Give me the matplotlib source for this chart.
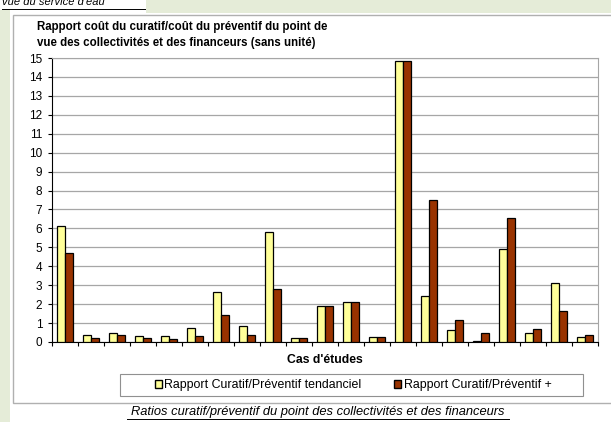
import matplotlib.pyplot as plt
import matplotlib.patches as mpatches
import numpy as np

plt.rcParams['font.family'] = ['Liberation Sans', 'DejaVu Sans']

# values (21 study cases)
tendanciel = [6.12, 0.35, 0.49, 0.32, 0.32, 0.72, 2.63, 0.82, 5.81, 0.21, 1.89,
              2.09, 0.28, 14.85, 2.42, 0.63, 0.07, 4.93, 0.46, 3.14, 0.28]
plus = [4.68, 0.21, 0.37, 0.21, 0.14, 0.30, 1.44, 0.39, 2.81, 0.21, 1.89,
        2.09, 0.28, 14.85, 7.49, 1.16, 0.49, 6.54, 0.70, 1.63, 0.37]
labels = ['Rapport Curatif/Préventif tendanciel', 'Rapport Curatif/Préventif +']

W, H = 611, 422
fig = plt.figure(figsize=(W / 100, H / 100), dpi=100)
fig.patch.set_facecolor('white')

def px(x, y, w, h):
    # pixel box (top-left origin) -> figure fraction
    return [x / W, 1 - (y + h) / H, w / W, h / H]

green = '#e5ecd8'
# page background bits
fig.patches.append(mpatches.Rectangle((146 / W, 1 - 13 / H), 1, 13 / H, transform=fig.transFigure,
                                      facecolor=green, edgecolor='none', zorder=-2))
fig.patches.append(mpatches.Rectangle((0, 0), 10 / W, 1 - 10 / H, transform=fig.transFigure,
                                      facecolor=green, edgecolor='none', zorder=-2))
# chart panel
b = px(13, 15, 640, 388)
fig.patches.append(mpatches.Rectangle((b[0], b[1]), b[2], b[3], transform=fig.transFigure,
                                      facecolor='white', edgecolor='#b0b0b0', lw=1, zorder=-1))

fig.text(2 / W, 1 - 2 / H, "vue du service d'eau", fontsize=8, style='italic',
         va='center', ha='left')
fig.lines.append(plt.Line2D([2 / W, 145 / W], [1 - 9 / H, 1 - 9 / H], transform=fig.transFigure,
                            color='black', lw=0.7))

fig.text(37 / W, 1 - 21 / H, 'Rapport coût du curatif/coût du préventif du point de\n'
         'vue des collectivités et des financeurs (sans unité)',
         fontsize=8.3, fontweight='bold', va='top', ha='left', linespacing=1.4)

ax = fig.add_axes(px(52, 58, 546, 284))
x = np.arange(len(tendanciel))
bw = 0.31
ax.bar(x - bw / 2, tendanciel, bw, color='#ffff99', edgecolor='black', lw=0.9, zorder=3)
ax.bar(x + bw / 2, plus, bw, color='#993300', edgecolor='black', lw=0.9, zorder=3)

ax.set_xlim(-0.5, len(x) - 0.5)
ax.set_ylim(0, 15)
ax.set_yticks(range(0, 16))
ax.set_xticks(np.arange(len(x) + 1) - 0.5)
ax.set_xticklabels([])
ax.tick_params(axis='y', labelsize=8.5, length=3, pad=4)
ax.tick_params(axis='x', length=3, direction='out')
ax.grid(axis='y', color='#a6a6a6', lw=0.9, zorder=0)
for s in ['top', 'right']:
    ax.spines[s].set_color('#a6a6a6')
ax.spines['left'].set_color('black')
ax.spines['bottom'].set_color('black')
ax.set_xlabel("Cas d'études", fontsize=8.8, fontweight='bold', labelpad=2)

# legend
lb = px(120, 374, 463, 22)
fig.patches.append(mpatches.Rectangle((lb[0], lb[1]), lb[2], lb[3], transform=fig.transFigure,
                                      facecolor='white', edgecolor='#909090', lw=0.8, zorder=1))
handles = [mpatches.Patch(facecolor='#ffff99', edgecolor='black'),
           mpatches.Patch(facecolor='#993300', edgecolor='black')]
fig.legend(handles, labels, ncol=2, loc='center', bbox_to_anchor=(353 / W, 1 - 385 / H),
           frameon=False, fontsize=8.9, handlelength=0.6, handleheight=0.6, handletextpad=0.2,
           columnspacing=2.6)

fig.text(318 / W, 1 - 412 / H, 'Ratios curatif/préventif du point des collectivités et des financeurs',
         fontsize=9.3, style='italic', ha='center', va='center')
fig.lines.append(plt.Line2D([127 / W, 509 / W], [1 - 419 / H, 1 - 419 / H], transform=fig.transFigure,
                            color='black', lw=0.7))

fig.savefig('out.png', dpi=100)
